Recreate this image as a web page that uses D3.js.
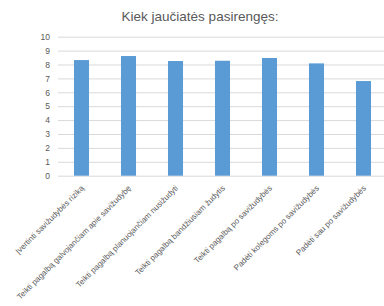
<!DOCTYPE html>
<html><head><meta charset="utf-8">
<script src="https://cdn.jsdelivr.net/npm/d3@7"></script>
<style>body{margin:0;background:#fff;} svg{display:block;}</style>
</head><body>
<script>
const categories = ["Įvertinti savižudybės riziką","Teikti pagalbą galvojančiam apie savižudybę","Teikti pagalbą planuojančiam nusižudyti","Teikti pagalbą bandžiusiam žudytis","Teikti pagalbą po savižudybės","Padėti kolegoms po savižudybės","Padėti sau po savižudybės"];
const values = [8.32, 8.61, 8.25, 8.27, 8.47, 8.08, 6.81];
const yTicks = [0,1,2,3,4,5,6,7,8,9,10];
const title = "Kiek jaučiatės pasirengęs:";

const W=384,H=306;
const svg=d3.select("body").append("svg").attr("width",W).attr("height",H);
const font="'Liberation Sans', Arial, sans-serif";
const x=d3.scaleBand().domain(categories).range([58,387]).paddingInner(0.68).paddingOuter(0.34);
const y=d3.scaleLinear().domain([0,10]).range([175.7,36.7]);

svg.append("text").attr("x",200).attr("y",21).attr("text-anchor","middle")
  .attr("font-family",font).attr("font-size",13.5).attr("fill","#595959").text(title);

const ya=svg.append("g").attr("transform","translate(58,0)")
  .call(d3.axisLeft(y).tickValues(yTicks).tickSize(-329).tickPadding(8));
ya.select(".domain").remove();
ya.selectAll("line").attr("stroke","#d9d9d9");
ya.selectAll("text").attr("font-family",font).attr("font-size",8.5).attr("fill","#595959");

svg.selectAll("rect.bar").data(values).enter().append("rect")
  .attr("x",(d,i)=>x(categories[i])).attr("width",x.bandwidth())
  .attr("y",d=>y(d)).attr("height",d=>y(0)-y(d)).attr("fill","#5b9bd5");

const xa=svg.append("g").attr("transform","translate(0,"+y(0)+")")
  .call(d3.axisBottom(x).tickSize(0).tickPadding(0));
xa.select(".domain").remove();
xa.selectAll("text").attr("font-family",font).attr("font-size",8).attr("fill","#595959")
  .attr("text-anchor","end").attr("dy",0)
  .attr("transform","translate(3,13) rotate(-45)");
</script>
</body></html>
